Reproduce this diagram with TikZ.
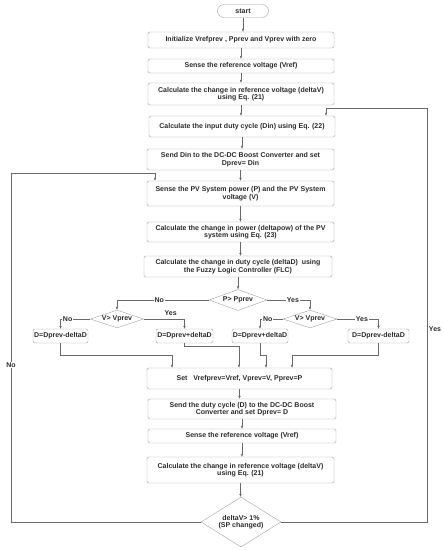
\documentclass[tikz,border=0pt]{standalone}
\usepackage{fontspec}
\setmainfont{Liberation Sans}
\usetikzlibrary{arrows.meta,shapes.geometric}
\definecolor{linegray}{HTML}{6A6A6A}
\definecolor{boxgray}{HTML}{A0A0A0}
\definecolor{txtgray}{HTML}{2A2A2A}
\tikzset{
  box/.style={draw=boxgray, rounded corners=1.5pt, align=center, inner sep=0pt, text=txtgray},
  dbox/.style={box, minimum height=14pt},
  dec/.style={draw=boxgray, diamond, aspect=2.6, inner sep=0pt, align=center, text=txtgray},
  lab/.style={fill=white, inner sep=1pt, text=txtgray},
  arr/.style={draw=linegray, ->}
}

\begin{document}
\begin{tikzpicture}[x=1pt, y=-1pt, font=\fontsize{7}{7.4}\selectfont\bfseries,
    >={Latex[length=3pt,width=2.6pt]}]
      \useasboundingbox (0,0) rectangle (444,550);
      % main column
      \node[box, rounded corners=6.5pt, minimum width=51pt, minimum height=13pt] (start) at (243,11) {start};
      \node[box, minimum width=186pt, minimum height=16pt] (init) at (241,40) {Initialize Vrefprev , Pprev and Vprev with zero};
      \node[box, minimum width=186pt, minimum height=14pt] (sref) at (241,66) {Sense the reference voltage (Vref)};
      \node[box, minimum width=186pt, minimum height=22pt] (dv) at (241,94) {Calculate the change in reference voltage (deltaV)\\using Eq. (21)};
      \node[box, minimum width=186pt, minimum height=21pt] (din) at (242,126.5) {Calculate the input duty cycle (Din) using Eq. (22)};
      \node[box, minimum width=187pt, minimum height=21pt] (send) at (240.5,159.5) {Send Din to the DC-DC Boost Converter and set\\Dprev= Din};
      \node[box, minimum width=187pt, minimum height=25pt] (pv) at (240.5,193.5) {Sense the PV System power (P) and the PV System\\voltage (V)};
      \node[box, minimum width=187pt, minimum height=20pt] (dpow) at (240.5,232) {Calculate the change in power (deltapow) of the PV\\system using Eq. (23)};
      \node[box, minimum width=188pt, minimum height=21pt] (dd) at (238,266.5) {Calculate the change in duty cycle (deltaD)\ \ using\\the Fuzzy Logic Controller (FLC)};
      % decisions
      \node[dec, minimum width=58pt, minimum height=21pt] (pcmp) at (238,300) {P> Pprev};
      \node[dec, minimum width=53pt, minimum height=15pt] (vno) at (117,319) {V> Vprev};
      \node[dec, minimum width=54pt, minimum height=15pt] (vyes) at (310,319) {V> Vprev};
      \node[dbox, minimum width=55pt] (da) at (60.5,336) {D=Dprev-deltaD};
      \node[dbox, minimum width=57pt] (db) at (184.5,336) {D=Dprev+deltaD};
      \node[dbox, minimum width=56pt] (dc) at (260,336) {D=Dprev+deltaD};
      \node[dbox, minimum width=61pt] (ddd) at (378.5,336) {D=Dprev-deltaD};
      % lower column
      \node[box, minimum width=185pt, minimum height=21pt] (set) at (239.5,378.5) {Set\ \ \ Vrefprev=Vref, Vprev=V, Pprev=P};
      \node[box, minimum width=188pt, minimum height=20pt] (sendd) at (242,409) {Send the duty cycle (D) to the DC-DC Boost\\Converter and set Dprev= D};
      \node[box, minimum width=188pt, minimum height=14pt] (sref2) at (242,436) {Sense the reference voltage (Vref)};
      \node[box, minimum width=187pt, minimum height=26pt] (dv2) at (240.5,470) {Calculate the change in reference voltage (deltaV)\\using Eq. (21)};
      \node[dec, aspect=1.6, minimum width=80pt, minimum height=50pt] (sp) at (241,522) {deltaV> 1\%\\(SP changed)};
      % helper points
      \coordinate (rtop) at (427,108);
      \coordinate (dinin) at (326,0);
      \coordinate (ltop) at (11,173);
      \coordinate (pvin) at (155,0);
      \coordinate (s1) at (172,355);
      \coordinate (s2) at (239,346);
      \coordinate (s3) at (266,355);
      \coordinate (s4) at (292,355);
      % straight arrows
      \foreach \a/\b in {start/init, init/sref, sref/dv, dv/din, din/send, send/pv, pv/dpow,
                         dpow/dd, dd/pcmp, set/sendd, sendd/sref2, sref2/dv2, dv2/sp}
        \draw[arr] (\a.south) -- (\a.south |- \b.north);
      % branches
      \draw[arr] (pcmp.west) -| (vno.north) node[lab, pos=0.27] {No};
      \draw[arr] (pcmp.east) -| (vyes.north) node[lab, pos=0.3] {Yes};
      \draw[arr] (vno.west) -| (da.north) node[lab, pos=0.38] {No};
      \draw[arr] (vno.east) -| (db.north) node[text=txtgray, above, pos=0.33] {Yes};
      \draw[arr] (vyes.west) -| (dc.north) node[lab, pos=0.33] {No};
      \draw[arr] (vyes.east) -| (ddd.north) node[lab, pos=0.3] {Yes};
      % merges
      \draw[arr] (da.south) |- (s1) -- (s1 |- set.north);
      \draw[arr] (db.south) |- (s2) -- (s2 |- set.north);
      \draw[arr] (dc.south) |- (s3) -- (s3 |- set.north);
      \draw[arr] (ddd.south) |- (s4) -- (s4 |- set.north);
      % loops
      \draw[arr] (sp.east) -| (rtop) -| (din.north -| dinin);
      \draw[arr] (sp.west) -| (ltop) -| (pv.north -| pvin);
      \node[text=txtgray] (yeslab) at (435,329) {Yes};
      \node[lab] (nolab) at (11,365) {No};
\end{tikzpicture}
\end{document}
